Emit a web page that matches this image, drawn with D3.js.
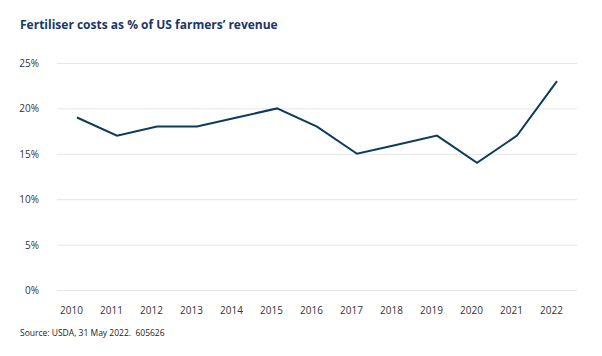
<!DOCTYPE html>
<html><head><meta charset="utf-8">
<script src="https://cdn.jsdelivr.net/npm/d3@7"></script>
<style>body{margin:0;background:#fff;} svg{display:block;} text{white-space:pre;}</style>
</head><body>
<script>
const years = ["2010","2011","2012","2013","2014","2015","2016","2017","2018","2019","2020","2021","2022"];
const fertiliserShare = [19,17,18,18,19,20,18,15,16,17,14,17,23];
const yTicks = [0,5,10,15,20,25];
const title = "Fertiliser costs as % of US farmers’ revenue";
const source = "Source: USDA, 31 May 2022.  605626";

const W = 602, H = 356;
const svg = d3.select("body").append("svg").attr("width", W).attr("height", H);

const x = d3.scalePoint().domain(years).range([57, 577]).padding(0.5);
const y = d3.scaleLinear().domain([0, 25]).range([290, 63]);

svg.append("text").attr("x", 20).attr("y", 29)
  .attr("font-family", "Open Sans").attr("font-weight", 700).attr("font-size", 12)
  .attr("fill", "#1a3668").text(title);

const yAxis = svg.append("g").attr("transform", "translate(57,0)")
  .call(d3.axisLeft(y).tickValues(yTicks).tickSize(-520).tickFormat(d => d + "%"));
yAxis.select(".domain").remove();
yAxis.selectAll(".tick line").attr("stroke", "#e6e6e6").attr("stroke-width", 1);
yAxis.selectAll(".tick text").attr("x", -18).attr("dy", "0.35em")
  .attr("font-family", "Open Sans").attr("font-size", 10).attr("fill", "#333");

const xAxis = svg.append("g").attr("transform", "translate(0,290)")
  .call(d3.axisBottom(x).tickSize(0));
xAxis.select(".domain").remove();
xAxis.selectAll(".tick text").attr("y", 17).attr("dx", -6)
  .attr("font-family", "Open Sans").attr("font-size", 10).attr("fill", "#333");

const line = d3.line().x((d, i) => x(years[i])).y(d => y(d));
svg.append("path").datum(fertiliserShare).attr("d", line)
  .attr("fill", "none").attr("stroke", "#0d3b5e").attr("stroke-width", 2)
  .attr("stroke-linejoin", "miter");

svg.append("text").attr("x", 20).attr("y", 336)
  .attr("font-family", "Open Sans").attr("font-size", 8.5)
  .attr("fill", "#222").text(source);
</script>
</body></html>
